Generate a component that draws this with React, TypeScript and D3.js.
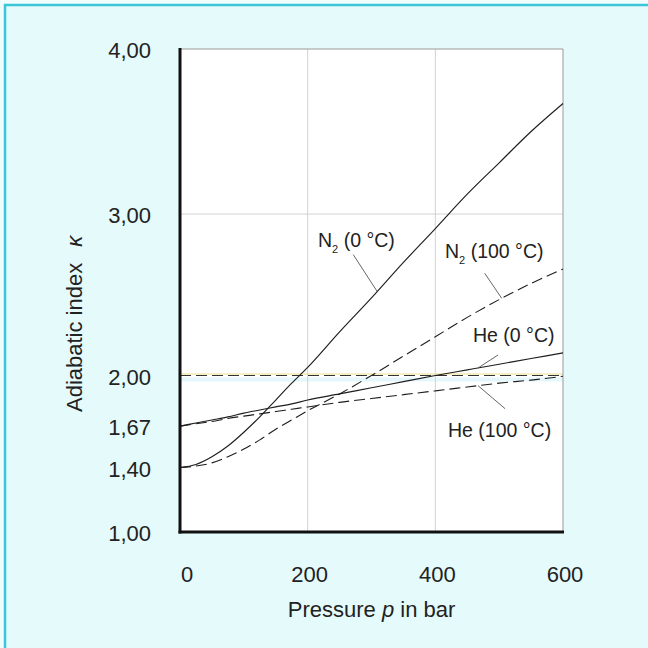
import React from 'react';
import * as d3 from 'd3';

// ---- data ----
const pressure = [0, 25, 50, 75, 100, 125, 150, 175, 200, 250, 300, 350, 400, 450, 500, 550, 600];
const n2At0C = [1.40, 1.42, 1.47, 1.54, 1.63, 1.73, 1.84, 1.95, 2.05, 2.27, 2.48, 2.70, 2.91, 3.12, 3.31, 3.50, 3.67];
const n2At100C = [1.40, 1.41, 1.43, 1.47, 1.52, 1.58, 1.65, 1.71, 1.77, 1.88, 2.00, 2.12, 2.24, 2.36, 2.47, 2.57, 2.66];
const heAt0C = [1.67, 1.69, 1.71, 1.73, 1.755, 1.775, 1.795, 1.815, 1.84, 1.88, 1.92, 1.96, 2.00, 2.035, 2.07, 2.105, 2.14];
const heAt100C = [1.67, 1.685, 1.70, 1.72, 1.735, 1.75, 1.765, 1.78, 1.795, 1.825, 1.85, 1.875, 1.90, 1.925, 1.95, 1.97, 1.995];
const referenceKappa = 2.0;

const pTicks = [0, 200, 400, 600];
const pTickLabels = ['0', '200', '400', '600'];
const kappaTicks = [1.0, 1.4, 1.67, 2.0, 3.0, 4.0];
const kappaTickLabels = ['1,00', '1,40', '1,67', '2,00', '3,00', '4,00'];
const gridP = [200, 400];
const gridKappa = [3.0];

const seriesValues = [n2At0C, n2At100C, heAt0C, heAt100C];
const seriesDashed = [false, true, false, true];
const labelBase = ['N', 'N', 'He', 'He'];
const labelSub = ['2', '2', '', ''];
const labelRest = [' (0 °C)', ' (100 °C)', ' (0 °C)', ' (100 °C)'];
// pressure where each label's pointer touches its curve
const pointerP = [309, 504, 467, 467];

const FONT = '"Liberation Sans", Arial, Helvetica, sans-serif';

export default function App() {
  const W = 648;
  const H = 648;
  const x = d3.scaleLinear().domain([0, 600]).range([180, 563]);
  const y = d3.scaleLinear().domain([1, 1.4, 2, 3, 4]).range([532, 467.5, 375.5, 214, 49]);

  const line = d3
    .line<number>()
    .x((_, i) => x(pressure[i]))
    .y((d) => y(d))
    .curve(d3.curveMonotoneX);

  const interp = (vals: number[], p: number) => {
    const i = d3.bisectRight(pressure, p) - 1;
    const j = Math.min(i + 1, pressure.length - 1);
    if (i === j) return vals[i];
    const t = (p - pressure[i]) / (pressure[j] - pressure[i]);
    return vals[i] + t * (vals[j] - vals[i]);
  };

  // label placement (annotation offsets)
  const labelPos = [
    { tx: 318, ty: 247, dx: -24, dy: -37 },
    { tx: 445, ty: 258, dx: -17, dy: -25 },
    { tx: 473, ty: 342, dx: 20, dy: -13 },
    { tx: 448, ty: 437, dx: 27, dy: 23 },
  ];

  const [x0, x1] = x.range();
  const yTop = y(4);
  const yBot = y(1);

  return (
    <div style={{ position: 'absolute', left: 0, top: 0, width: W, height: H }}>
      <svg width={W} height={H} style={{ display: 'block', background: '#effdfd' }} fontFamily={FONT}>
        {/* frame */}
        <rect x={5} y={5} width={W + 20} height={H + 20} fill="#e5fafb" stroke="#3cc6d9" strokeWidth={2.5} />

        {/* plot area */}
        <rect x={x0} y={yTop} width={x1 - x0} height={yBot - yTop} fill="#ffffff" />

        {/* subtle print tints around 2.00 line */}
        <rect x={x0} y={y(referenceKappa) + 2} width={x1 - x0} height={4} fill="#e6f7fb" />
        <line x1={x0} x2={x1} y1={y(referenceKappa) - 1.5} y2={y(referenceKappa) - 1.5} stroke="#f6efc4" strokeWidth={2} />

        {/* grid */}
        {gridP.map((p) => (
          <line key={'gp' + p} x1={x(p)} x2={x(p)} y1={yTop} y2={yBot} stroke="#d2d2d2" strokeWidth={1} />
        ))}
        {gridKappa.map((k) => (
          <line key={'gk' + k} x1={x0} x2={x1} y1={y(k)} y2={y(k)} stroke="#d2d2d2" strokeWidth={1} />
        ))}
        {/* top & right borders */}
        <line x1={x0} x2={x1} y1={yTop} y2={yTop} stroke="#9a9a9a" strokeWidth={1.2} />
        <line x1={x1} x2={x1} y1={yTop} y2={yBot} stroke="#9a9a9a" strokeWidth={1} />

        {/* reference line at 2.00 */}
        <line
          x1={x0}
          x2={x1}
          y1={y(referenceKappa)}
          y2={y(referenceKappa)}
          stroke="#333"
          strokeWidth={1.1}
          strokeDasharray="11 5"
        />

        {/* curves */}
        {seriesValues.map((vals, i) => (
          <path
            key={'s' + i}
            d={line(vals) || ''}
            fill="none"
            stroke="#1e1e1e"
            strokeWidth={seriesDashed[i] ? 1.1 : 1.15}
            strokeDasharray={seriesDashed[i] ? '11 5' : undefined}
          />
        ))}

        {/* axes */}
        <line x1={x0} x2={x0} y1={yTop - 1} y2={yBot + 1.5} stroke="#111" strokeWidth={3} />
        <line x1={x0 - 1.5} x2={x1 + 1} y1={yBot} y2={yBot} stroke="#111" strokeWidth={3} />

        {/* curve labels + pointers */}
        {seriesValues.map((vals, i) => {
          const p = pointerP[i];
          const cx = x(p);
          const cy = y(interp(vals, p));
          const lp = labelPos[i];
          return (
            <g key={'l' + i}>
              <line x1={cx} y1={cy} x2={cx + lp.dx} y2={cy + lp.dy} stroke="#555" strokeWidth={0.9} />
              <text x={lp.tx} y={lp.ty} fontSize={19.5} fill="#222">
                {labelBase[i]}
                {labelSub[i] ? (
                  <tspan fontSize={11} dy={6}>
                    {labelSub[i]}
                  </tspan>
                ) : null}
                {labelSub[i] ? <tspan dy={-6}>{labelRest[i]}</tspan> : labelRest[i]}
              </text>
            </g>
          );
        })}

        {/* y tick labels */}
        {kappaTicks.map((k, i) => (
          <text key={'yt' + k} x={151} y={y(k) + 9} fontSize={22} textAnchor="end" fill="#222">
            {kappaTickLabels[i]}
          </text>
        ))}

        {/* x tick labels */}
        {pTicks.map((p, i) => (
          <text key={'xt' + p} x={x(p) + (p === 0 ? 7 : 2)} y={582} fontSize={22} textAnchor="middle" fill="#222">
            {pTickLabels[i]}
          </text>
        ))}

        {/* axis titles */}
        <text x={(x0 + x1) / 2} y={617} fontSize={22} textAnchor="middle" fill="#222">
          Pressure <tspan fontStyle="italic">p</tspan> in bar
        </text>
        <text transform={`translate(82, 412) rotate(-90)`} fontSize={22} fill="#222">
          Adiabatic index
          <tspan dx={16} fontStyle="italic">
            κ
          </tspan>
        </text>
      </svg>
    </div>
  );
}
